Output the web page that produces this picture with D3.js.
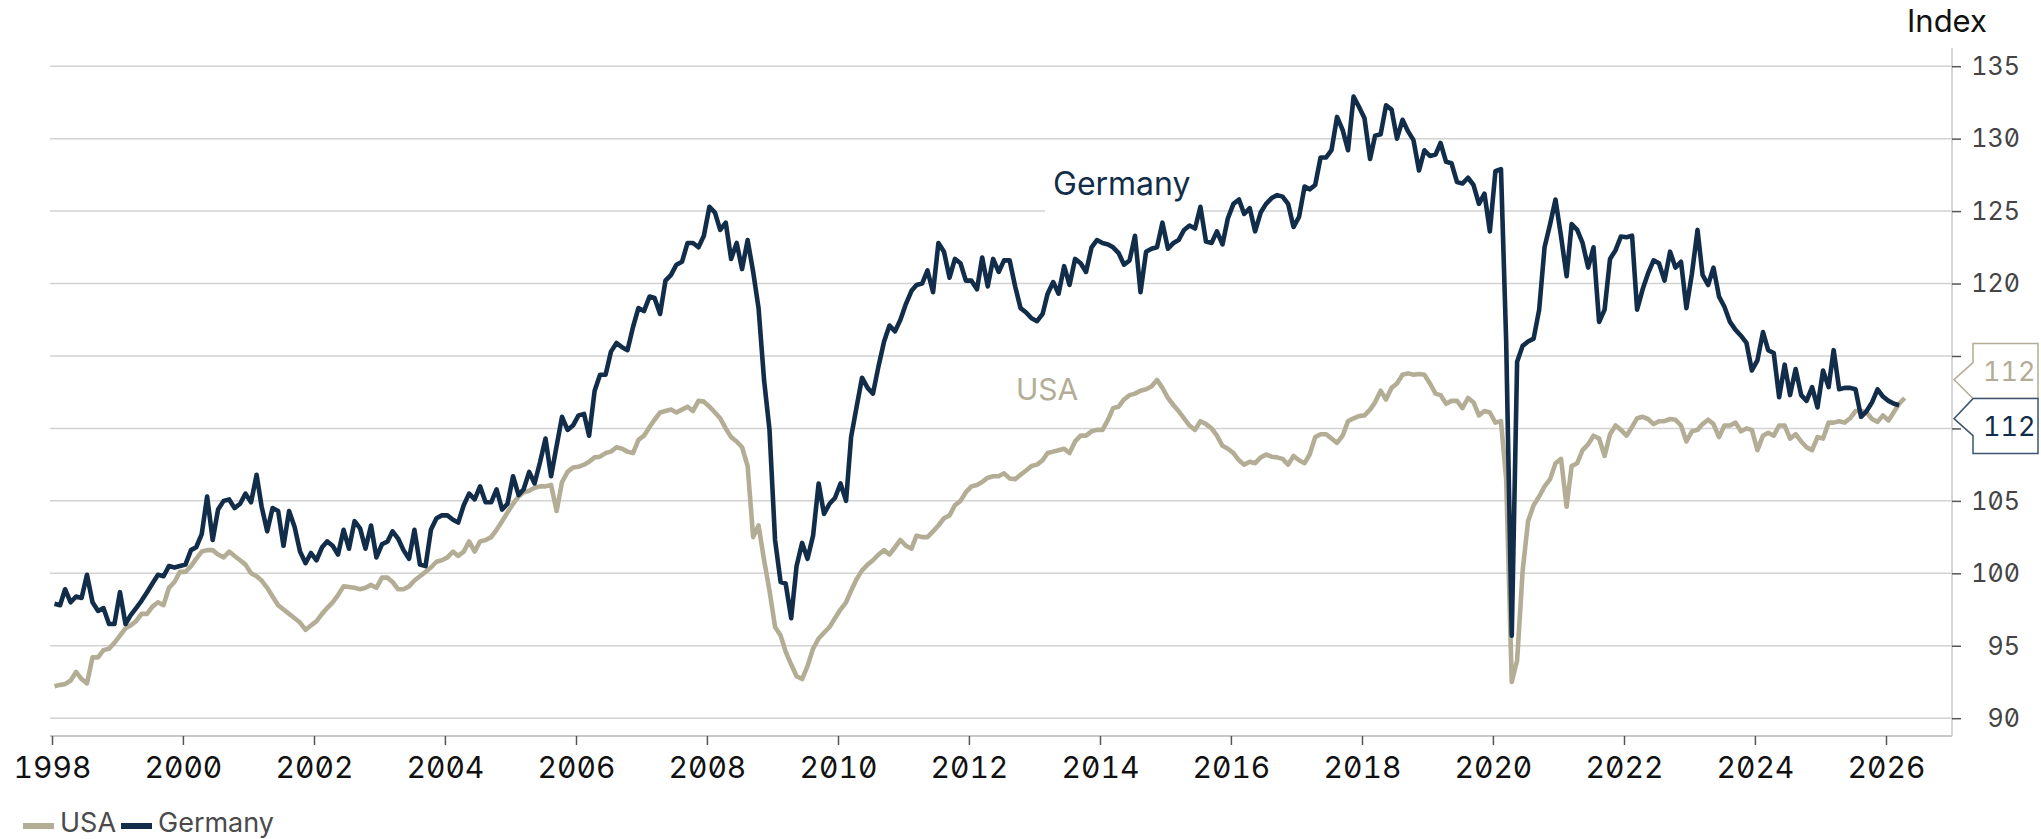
<!DOCTYPE html>
<html>
<head>
<meta charset="utf-8">
<script src="https://cdn.jsdelivr.net/npm/d3@7"></script>
<style>
  html, body { margin: 0; padding: 0; background: #ffffff; }
  svg { display: block; }
  text { font-family: Inter, "DejaVu Sans", sans-serif; font-feature-settings: "zero" 1, "tnum" 1; }
</style>
</head>
<body>
<svg id="chart" width="2041" height="839"></svg>
<script>
// ---- data (monthly index values, Jan 1998 onward) ----
const startYear = 1998;
const seriesNames = ["USA", "Germany"];
const usa = [
92.2,92.3,92.35,92.6,93.2,92.7,92.4,94.2,94.2,94.7,94.8,95.2,
95.7,96.2,96.4,96.7,97.2,97.2,97.7,98.0,97.8,99.0,99.4,100.1,
100.1,100.5,101.0,101.5,101.6,101.6,101.3,101.1,101.5,101.2,100.9,100.6,
100.0,99.8,99.5,99.0,98.4,97.8,97.5,97.2,96.9,96.6,96.1,96.4,
96.7,97.2,97.6,98.0,98.5,99.1,99.05,99.0,98.9,99.0,99.2,99.0,
99.7,99.7,99.4,98.9,98.9,99.1,99.5,99.8,100.1,100.4,100.8,100.9,
101.1,101.5,101.2,101.5,102.2,101.5,102.2,102.3,102.5,103.0,103.6,104.2,
104.8,105.3,105.6,105.7,105.9,106.0,106.0,106.1,104.3,106.3,107.0,107.3,
107.35,107.5,107.7,108.0,108.05,108.3,108.4,108.7,108.6,108.4,108.3,109.2,
109.5,110.1,110.6,111.1,111.2,111.3,111.1,111.3,111.5,111.2,111.9,111.85,
111.5,111.1,110.7,110.0,109.4,109.1,108.7,107.4,102.5,103.3,100.9,98.8,
96.3,95.7,94.6,93.7,92.9,92.7,93.6,94.8,95.5,95.9,96.3,96.9,
97.5,98.0,98.8,99.6,100.2,100.6,100.9,101.3,101.6,101.3,101.8,102.3,
101.9,101.7,102.6,102.5,102.5,102.9,103.3,103.8,104.0,104.7,105.0,105.6,
106.0,106.1,106.3,106.6,106.7,106.7,106.9,106.55,106.5,106.8,107.1,107.4,
107.5,107.8,108.3,108.4,108.5,108.6,108.3,109.1,109.5,109.5,109.8,109.9,
109.9,110.6,111.4,111.5,112.0,112.3,112.4,112.6,112.7,112.9,113.35,112.8,
112.1,111.6,111.2,110.7,110.2,109.9,110.5,110.3,110.0,109.5,108.8,108.6,
108.3,107.8,107.5,107.7,107.6,108.0,108.2,108.05,108.0,107.9,107.5,108.1,
107.8,107.6,108.2,109.4,109.6,109.6,109.3,109.0,109.5,110.5,110.7,110.85,
110.9,111.3,111.8,112.6,112.0,112.8,113.1,113.7,113.8,113.7,113.75,113.7,
113.1,112.4,112.3,111.7,111.9,111.9,111.4,112.1,111.8,110.9,111.2,111.1,
110.4,110.5,106.5,92.5,94.0,100.2,103.6,104.7,105.3,106.0,106.5,107.6,
107.9,104.6,107.4,107.6,108.5,108.9,109.5,109.3,108.1,109.6,110.2,109.9,
109.5,110.1,110.7,110.8,110.65,110.3,110.5,110.5,110.65,110.6,110.2,109.1,
109.8,109.9,110.3,110.6,110.3,109.4,110.2,110.2,110.4,109.8,110.0,109.9,
108.5,109.5,109.7,109.5,110.2,110.2,109.3,109.6,109.1,108.7,108.5,109.4,
109.3,110.4,110.4,110.5,110.4,110.7,111.2,111.2,111.1,110.65,110.45,110.9,
110.55,111.15,111.7,112.1
];
const germany = [
97.9,97.8,98.9,98.0,98.4,98.3,99.9,98.0,97.4,97.6,96.5,96.5,
98.7,96.5,97.1,97.6,98.1,98.7,99.3,99.9,99.8,100.5,100.4,100.5,
100.6,101.6,101.8,102.7,105.3,102.3,104.4,105.0,105.1,104.5,104.8,105.5,
104.9,106.8,104.6,102.9,104.5,104.3,101.9,104.3,103.2,101.5,100.7,101.4,
100.9,101.8,102.2,101.9,101.3,103.0,101.7,103.6,103.1,101.7,103.3,101.1,
102.0,102.2,102.9,102.4,101.6,101.0,103.0,100.6,100.5,103.0,103.8,104.0,
104.0,103.7,103.5,104.7,105.5,105.1,106.0,104.9,104.9,105.8,104.4,104.8,
106.7,105.4,105.8,107.0,106.2,107.7,109.3,106.7,108.8,110.8,109.9,110.2,
110.9,111.0,109.5,112.6,113.7,113.7,115.3,115.9,115.6,115.4,117.0,118.3,
118.1,119.1,119.0,117.9,120.2,120.6,121.3,121.5,122.8,122.8,122.5,123.3,
125.3,124.9,123.7,124.2,121.7,122.8,121.0,123.0,120.8,118.3,113.3,109.9,
102.3,99.4,99.3,96.9,100.5,102.1,101.0,102.6,106.2,104.1,104.8,105.2,
106.2,105.0,109.4,111.5,113.5,112.8,112.4,114.3,116.0,117.1,116.7,117.5,
118.6,119.5,119.9,120.0,120.9,119.4,122.8,122.2,120.4,121.7,121.4,120.2,
120.2,119.6,121.8,119.8,121.7,120.8,121.6,121.6,119.8,118.3,118.0,117.6,
117.4,117.9,119.3,120.1,119.3,121.2,119.9,121.7,121.4,120.8,122.5,123.0,
122.8,122.7,122.5,122.1,121.3,121.6,123.3,119.4,122.2,122.4,122.5,124.2,
122.4,122.8,123.0,123.7,124.0,123.8,125.3,122.9,122.8,123.6,122.7,124.5,
125.5,125.8,124.8,125.2,123.6,124.9,125.5,125.9,126.1,126.0,125.5,123.9,
124.6,126.7,126.5,126.8,128.7,128.7,129.2,131.5,130.6,129.2,132.9,132.2,
131.4,128.6,130.2,130.3,132.3,132.0,130.0,131.3,130.5,129.9,127.8,129.2,
128.8,128.9,129.7,128.4,128.3,127.0,126.9,127.3,126.8,125.5,126.2,123.6,
127.75,127.9,116.0,95.7,114.6,115.7,116.0,116.2,118.2,122.5,124.1,125.8,
123.25,120.5,124.1,123.7,122.8,121.1,122.5,117.35,118.2,121.7,122.3,123.25,
123.2,123.3,118.2,119.6,120.7,121.6,121.4,120.2,122.2,121.1,121.5,118.3,
120.7,123.7,120.6,119.9,121.1,119.1,118.4,117.35,116.8,116.4,115.9,114.0,
114.7,116.65,115.4,115.2,112.15,114.4,112.3,114.1,112.3,111.9,112.85,111.45,
114.0,112.85,115.4,112.7,112.8,112.8,112.7,110.8,111.2,111.8,112.7,112.2,
111.9,111.7,111.6
];
const yTicks = [90, 95, 100, 105, 110, 115, 120, 125, 130, 135];
const xTickYears = [1998, 2000, 2002, 2004, 2006, 2008, 2010, 2012, 2014, 2016, 2018, 2020, 2022, 2024, 2026];
const yAxisTitle = "Index";

// ---- styling / layout ----
const colors = { USA: "#b4ad95", Germany: "#112d4a" };
const plotLeft = 50, plotRight = 1952;

const svg = d3.select("#chart");
svg.append("rect").attr("width", 2041).attr("height", 839).attr("fill", "#fff");

const x = d3.scaleTime()
  .domain([new Date(1998, 0, 1), new Date(2026, 0, 1)])
  .range([52, 1886]);
const y = d3.scaleLinear().domain([90, 135]).range([718.2, 66.2]);

const toPoints = arr => arr.map((v, i) => ({ date: new Date(startYear, i, 15), value: v }));
const seriesData = { USA: toPoints(usa), Germany: toPoints(germany) };

// gridlines
svg.append("g").selectAll("line").data(yTicks).join("line")
  .attr("x1", plotLeft).attr("x2", plotRight)
  .attr("y1", d => y(d)).attr("y2", d => y(d))
  .attr("stroke", "#d2d2d2").attr("stroke-width", 1.5);

// right axis line
svg.append("line").attr("x1", plotRight).attr("x2", plotRight)
  .attr("y1", 48).attr("y2", 736).attr("stroke", "#d6d6d6").attr("stroke-width", 2);

// bottom axis line
svg.append("line").attr("x1", plotLeft).attr("x2", plotRight)
  .attr("y1", 736).attr("y2", 736).attr("stroke", "#c8c8c8").attr("stroke-width", 2);

// y axis (right)
const yAxis = d3.axisRight(y).tickValues(yTicks).tickSize(9).tickPadding(12).tickFormat(d3.format("d"));
const gy = svg.append("g").attr("transform", `translate(${plotRight},0)`).call(yAxis);
gy.select(".domain").remove();
gy.selectAll(".tick line").attr("stroke", "#555").attr("stroke-width", 1.5);
gy.selectAll(".tick text")
  .attr("x", 2020).attr("text-anchor", "end")
  .attr("transform", `translate(${-plotRight},0)`)
  .attr("dy", "0.33em")
  .attr("fill", "#444").style("font-size", "25px");

// x axis
const xAxis = d3.axisBottom(x)
  .tickValues(xTickYears.map(yr => new Date(yr, 0, 1)))
  .tickSize(9).tickPadding(10)
  .tickFormat(d3.timeFormat("%Y"));
const gx = svg.append("g").attr("transform", "translate(0,736)").call(xAxis);
gx.select(".domain").remove();
gx.selectAll(".tick line").attr("stroke", "#555").attr("stroke-width", 1.5);
gx.selectAll(".tick text").attr("fill", "#111").style("font-size", "30px")
  .attr("y", 42).attr("dy", 0);

// axis title
svg.append("text").attr("x", 1907).attr("y", 32).attr("fill", "#111")
  .style("font-size", "31px").text(yAxisTitle);

// in-chart label background for Germany
svg.append("rect").attr("x", 1045).attr("y", 160).attr("width", 158).attr("height", 53).attr("fill", "#fff");

// lines
const line = d3.line().x(d => x(d.date)).y(d => y(d.value));
seriesNames.forEach(name => {
  svg.append("path").datum(seriesData[name])
    .attr("fill", "none").attr("stroke", colors[name])
    .attr("stroke-width", 4.6).attr("stroke-linejoin", "round")
    .attr("d", line);
});

// in-chart labels
svg.append("text").attr("x", 1053).attr("y", 195).attr("fill", colors.Germany)
  .style("font-size", "32px").text("Germany");
svg.append("text").attr("x", 1016).attr("y", 400).attr("fill", colors.USA)
  .style("font-size", "30px").text("USA");

// end-value callouts
const lastU = usa[usa.length - 1], lastG = germany[germany.length - 1];
const c = (y(lastU) + y(lastG)) / 2 - 3;
const bx0 = 1973, bx1 = 2038, tipX = 1954, bh = 55;
const fmt = d3.format(".0f");
// USA box (above)
svg.append("path")
  .attr("d", `M${bx0},${c - bh} H${bx1} V${c} H${bx0} L${tipX},${c - 19} L${bx0},${c - 36} Z`)
  .attr("fill", "#fff").attr("stroke", colors.USA).attr("stroke-width", 1.5);
svg.append("text").attr("x", 1983).attr("y", c - 18).attr("fill", colors.USA)
  .style("font-size", "27px").text(fmt(lastU));
// Germany box (below)
svg.append("path")
  .attr("d", `M${bx0},${c} H${bx1} V${c + bh} H${bx0} V${c + 37} L${tipX},${c + 20} Z`)
  .attr("fill", "#fff").attr("stroke", "#3d5570").attr("stroke-width", 1.5);
svg.append("text").attr("x", 1983).attr("y", c + 37).attr("fill", colors.Germany)
  .style("font-size", "27px").text(fmt(lastG));

// legend
const legend = [{ name: "USA", x: 23, tx: 60 }, { name: "Germany", x: 121, tx: 158 }];
legend.forEach(l => {
  svg.append("rect").attr("x", l.x).attr("y", 823).attr("width", 31).attr("height", 6).attr("fill", colors[l.name]);
  svg.append("text").attr("x", l.tx).attr("y", 832).attr("fill", "#4a4a4a")
    .style("font-size", "27px").text(l.name);
});
</script>
</body>
</html>
